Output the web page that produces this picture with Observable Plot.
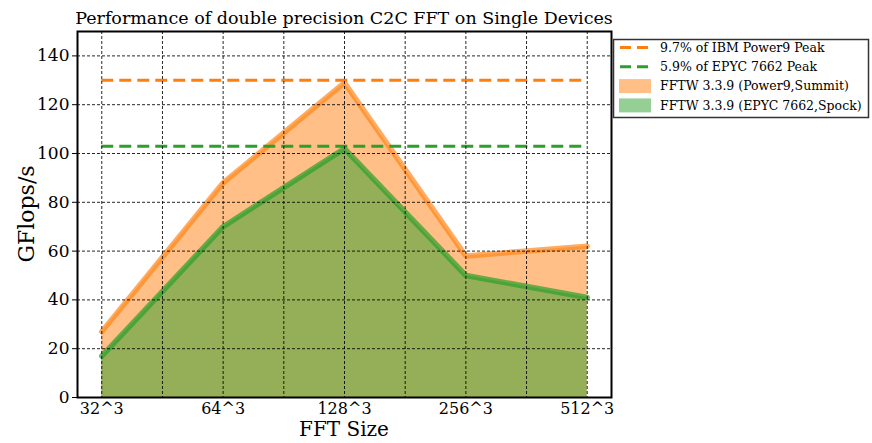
<!DOCTYPE html>
<html>
<head>
<meta charset="utf-8">
<script src="https://cdn.jsdelivr.net/npm/d3@7"></script>
<script src="https://cdn.jsdelivr.net/npm/@observablehq/plot@0.6"></script>
<style>
  body { margin: 0; background: #fff; }
  #chart svg { display: block; }
</style>
</head>
<body>
<div id="chart"></div>
<script>
const sizes = ["32^3", "64^3", "128^3", "256^3", "512^3"];
const power9 = [27, 88, 129, 58, 62];
const epyc = [17, 70, 102, 50, 41];
const power9Peak = 130;
const epycPeak = 103;
const yTicks = [0, 20, 40, 60, 80, 100, 120, 140];
const seriesNames = ["FFTW 3.3.9 (Power9,Summit)", "FFTW 3.3.9 (EPYC 7662,Spock)"];
const peakNames = ["9.7% of IBM Power9 Peak", "5.9% of EPYC 7662 Peak"];
const titleText = "Performance of double precision C2C FFT on Single Devices";

const ORANGE = "#ff7f0e", GREEN = "#2ca02c";
const FONT = "DejaVu Serif";

const rows = sizes.map((s, i) => ({i, s, p: power9[i], e: epyc[i]}));
const last = sizes.length - 1;
const xGrid = d3.range(0, last + 0.01, 0.5);

const plot = Plot.plot({
  width: 872, height: 443,
  marginLeft: 77, marginRight: 261, marginTop: 31, marginBottom: 46,
  style: {fontFamily: FONT, background: "#fff"},
  x: {domain: [-0.2, last + 0.2]},
  y: {domain: [0, 150]},
  marks: [
    Plot.areaY(rows, {x: "i", y: "p", fill: ORANGE, fillOpacity: 0.5}),
    Plot.areaY(rows, {x: "i", y: "e", fill: GREEN, fillOpacity: 0.5}),
    Plot.lineY(rows, {x: "i", y: "p", stroke: ORANGE, strokeOpacity: 0.65, strokeWidth: 5.5}),
    Plot.lineY(rows, {x: "i", y: "e", stroke: GREEN, strokeOpacity: 0.7, strokeWidth: 5.5}),
    Plot.ruleY([power9Peak], {x1: () => 0, x2: () => last, stroke: ORANGE, strokeWidth: 3, strokeDasharray: "12,6"}),
    Plot.ruleY([epycPeak], {x1: () => 0, x2: () => last, stroke: GREEN, strokeWidth: 3, strokeDasharray: "12,6"}),
    Plot.ruleX(xGrid, {stroke: "#000", strokeOpacity: 0.85, strokeWidth: 1, strokeDasharray: "3,2"}),
    Plot.ruleY(yTicks.slice(1), {stroke: "#000", strokeOpacity: 0.85, strokeWidth: 1, strokeDasharray: "3,2"}),
    Plot.axisX(d3.range(sizes.length), {tickFormat: i => sizes[i], tickSize: 0, tickPadding: 5, fontSize: 16, fill: "#000", label: null}),
    Plot.axisY(yTicks, {tickSize: 5, tickPadding: 3, fontSize: 17, fill: "#000", label: null}),
    Plot.frame({stroke: "#000", strokeWidth: 2})
  ]
});

document.getElementById("chart").appendChild(plot);

const svg = d3.select(plot);
// title
svg.append("text").attr("x", 344).attr("y", 24).attr("text-anchor", "middle")
  .attr("font-family", FONT).attr("font-size", 17.5).attr("fill", "#000").text(titleText);
// x label
svg.append("text").attr("x", 344).attr("y", 436).attr("text-anchor", "middle")
  .attr("font-family", FONT).attr("font-size", 20).attr("fill", "#000").text("FFT Size");
// y label
svg.append("text").attr("transform", "translate(34,214) rotate(-90)").attr("text-anchor", "middle")
  .attr("font-family", FONT).attr("font-size", 22).attr("fill", "#000").text("GFlops/s");

// legend
const lg = svg.append("g");
lg.append("rect").attr("x", 613.5).attr("y", 39.5).attr("width", 255).attr("height", 78)
  .attr("fill", "#fff").attr("stroke", "#333").attr("stroke-width", 1.5);
const items = [
  {type: "dash", color: ORANGE, label: peakNames[0]},
  {type: "dash", color: GREEN, label: peakNames[1]},
  {type: "patch", color: ORANGE, label: seriesNames[0]},
  {type: "patch", color: GREEN, label: seriesNames[1]}
];
items.forEach((it, k) => {
  const cy = 47.5 + k * 19.3;
  if (it.type === "dash") {
    lg.append("line").attr("x1", 620).attr("x2", 650).attr("y1", cy).attr("y2", cy)
      .attr("stroke", it.color).attr("stroke-width", 3).attr("stroke-dasharray", "11,6");
  } else {
    lg.append("rect").attr("x", 619).attr("y", cy - 7).attr("width", 32).attr("height", 14)
      .attr("fill", it.color).attr("fill-opacity", 0.5);
  }
  lg.append("text").attr("x", 660).attr("y", cy).attr("dy", "0.35em").attr("text-anchor", "start")
    .attr("font-family", FONT).attr("font-size", 12.5).attr("fill", "#000").text(it.label);
});
</script>
</body>
</html>
